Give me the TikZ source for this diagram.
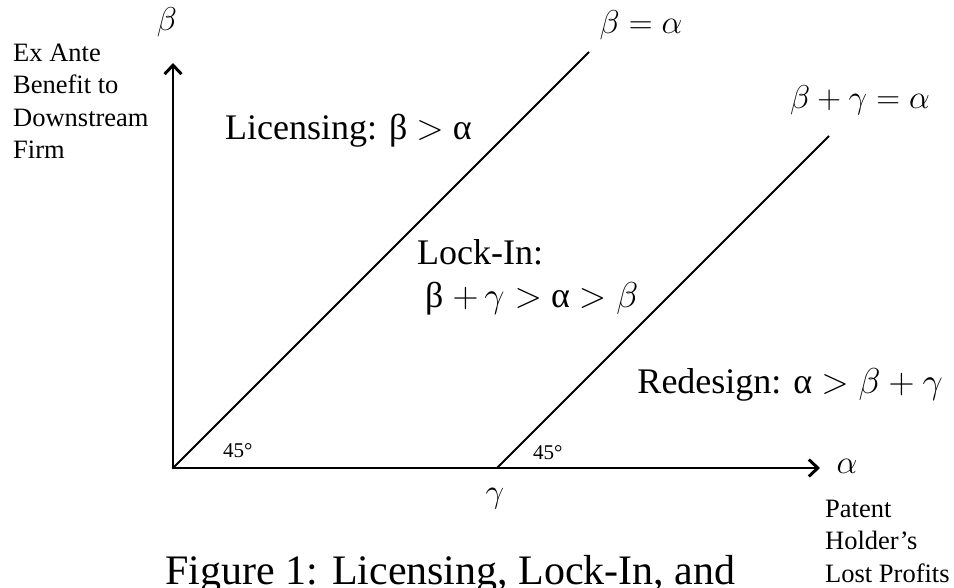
\RequirePackage{fix-cm}
\documentclass[tikz,border=0pt]{standalone}
\usepackage{amsmath}
\usepackage{fontspec}
\setmainfont{Liberation Serif}
\usepackage{tikz}
\usetikzlibrary{arrows.meta, positioning}
\newcommand{\sidefont}{\fontsize{26.5}{32.5}\selectfont}
\newcommand{\regionfont}{\fontsize{36}{43}\selectfont}
\newcommand{\eqfont}{\fontsize{33}{38}\selectfont}
\newcommand{\degfont}{\fontsize{21}{25}\selectfont}
\newcommand{\capfont}{\fontsize{42}{50}\selectfont}
\tikzstyle{axis} = [line width=2.8pt, line cap=round, -{Straight Barb[length=9pt, width=17pt, line width=3pt]}]
\tikzstyle{boundary} = [line width=2pt]
\tikzstyle{sidetext} = [inner sep=0pt, font=\sidefont, align=left]
\tikzstyle{regiontext} = [inner sep=0pt, font=\regionfont]
\tikzstyle{eqtext} = [inner sep=0pt, font=\eqfont]
\tikzstyle{degtext} = [inner sep=0pt, font=\degfont]

\begin{document}
\begin{tikzpicture}[x=1pt, y=-1pt]
    \useasboundingbox (0,0) rectangle (954,588);

    % Axes
    \coordinate (origin) at (173,468);
    \coordinate (ytip) at (173,63);
    \coordinate (xtip) at (820,468);
    \draw [axis] (origin) -- (ytip);
    \draw [axis] (origin) -- (xtip);

    % Boundary lines
    \coordinate (gammapt) at (497,468);
    \coordinate (eqtop) at (589,52);
    \coordinate (redtop) at (829,136);
    \draw [boundary] (origin) -- (eqtop);
    \draw [boundary] (gammapt) -- (redtop);

    % Axis labels
    \node (beta) [eqtext] at (167,22) {$\beta$};
    \node (alpha) [eqtext] at (847,466) {$\alpha$};
    \node (gamma) [eqtext] at (495,499) {$\gamma$};
    \node (ylab) [sidetext, anchor=base west] at (13,159) {Ex Ante\\Benefit to\\Downstream\\Firm};
    \node (xlab) [sidetext, anchor=base west] at (825,582) {Patent\\Holder’s\\Lost Profits};

    % Line labels
    \node (eqlab) [eqtext] at (641,25) {$\beta=\alpha$};
    \node (redlab) [eqtext] at (860,100) {$\beta+\gamma=\alpha$};

    % Angles
    \node (ang1) [degtext, anchor=base west] at (223,457) {45°};
    \node (ang2) [degtext, anchor=base west] at (533,459) {45°};

    % Regions
    \node (lic) [regiontext, anchor=base west] at (225,140) {Licensing: β $>$ α};
    \node (lock) [regiontext, anchor=base west] at (417,265) {Lock-In:};
    \node (lockcond) [regiontext, anchor=base west] at (425,308) {β $+\,\gamma>$ α $>\beta$};
    \node (redes) [regiontext, anchor=base east] at (943,393) {Redesign: α $>\beta+\gamma$};

    % Caption
    \node (caption) [inner sep=0pt, font=\capfont, anchor=base west] at (165,584) {Figure 1: Licensing, Lock-In, and};
\end{tikzpicture}
\end{document}
